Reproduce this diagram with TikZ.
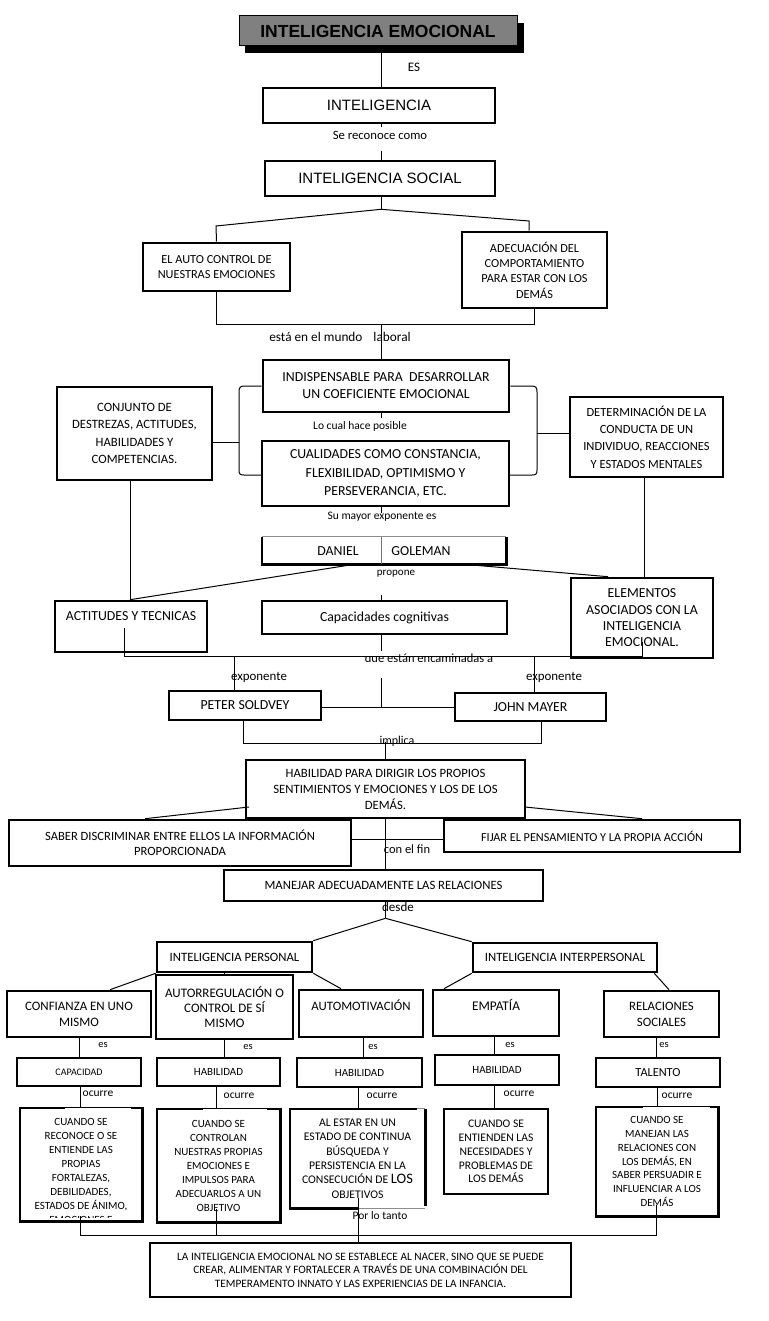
\documentclass[tikz,border=0pt]{standalone}
\usepackage{fontspec}
\setmainfont{Carlito}
\newfontfamily\arialf{Liberation Sans}
\begin{document}
\begin{tikzpicture}[x=1pt,y=-1pt,
  bx/.style={draw, line width=2.6pt, inner sep=0pt, align=center, font=\fontsize{12.7}{15}\selectfont},
  txt/.style={inner sep=0pt, align=center, font=\fontsize{13.8}{15}\selectfont},
  stxt/.style={inner sep=0pt, align=center, font=\fontsize{11}{14}\selectfont},
  lbl/.style={inner sep=1pt, font=\fontsize{12}{13}\selectfont},
  slbl/.style={inner sep=1pt, font=\fontsize{11.5}{12}\selectfont},
  ln/.style={line width=1pt},
  thk/.style={line width=2.6pt},
]
\useasboundingbox (0,0) rectangle (768,1321);
\fill[white] (0,0) rectangle (768,1321);
\coordinate (sp) at (381,0);

% ---------- boxes ----------
\fill[black] (245,23) rectangle (524,53);
\node[draw, line width=1pt, fill=black!50, inner sep=0pt, minimum width=278pt, minimum height=30pt,
      font=\arialf\bfseries\fontsize{17.5}{20}\selectfont] (title) at (378,31) {INTELIGENCIA EMOCIONAL};
\node[bx, minimum width=232pt, minimum height=35pt, font=\arialf\fontsize{15}{18}\selectfont] (intel) at (379,105.5) {INTELIGENCIA};
\node[bx, minimum width=230pt, minimum height=35pt, font=\arialf\fontsize{15}{18}\selectfont] (social) at (380,178.5) {INTELIGENCIA SOCIAL};
\node[bx, minimum width=147pt, minimum height=48pt, font=\fontsize{12.3}{15}\selectfont] (auto) at (216.5,267) {EL AUTO CONTROL DE\\NUESTRAS EMOCIONES};
\node[bx, minimum width=145pt, minimum height=76pt, font=\fontsize{12.3}{15.3}\selectfont] (adec) at (534.5,270) {ADECUACIÓN DEL\\COMPORTAMIENTO\\PARA ESTAR CON LOS\\DEMÁS};
\node[bx, minimum width=246pt, minimum height=52pt, font=\fontsize{13.8}{17}\selectfont] (indis) at (386,386) {INDISPENSABLE PARA\ \ DESARROLLAR\\UN COEFICIENTE EMOCIONAL};
\node[bx, minimum width=155pt, minimum height=93pt, font=\fontsize{12.7}{17.5}\selectfont] (conj) at (134.5,433.5) {CONJUNTO DE\\DESTREZAS, ACTITUDES,\\HABILIDADES Y\\COMPETENCIAS.};
\node[bx, minimum width=153pt, minimum height=80pt, font=\fontsize{12.5}{17.3}\selectfont] (deter) at (646.5,437) {DETERMINACIÓN DE LA\\CONDUCTA DE UN\\INDIVIDUO, REACCIONES\\Y ESTADOS MENTALES};
\node[bx, minimum width=247pt, minimum height=65pt, font=\fontsize{13.8}{18.5}\selectfont] (cual) at (385.5,473.5) {CUALIDADES COMO CONSTANCIA,\\FLEXIBILIDAD, OPTIMISMO Y\\PERSEVERANCIA, ETC.};

\node[inner sep=0pt, minimum width=244pt, minimum height=27pt] (dan) at (384,550.5) {};
\draw[thk] (dan.north west) -- (dan.south west) -- (dan.south east) -- (dan.north east);
\draw[ln, black!45] (dan.north west) -- (dan.north east);
\draw[ln, black!55] (sp |- dan.north) -- (sp |- dan.south);
\node[txt] (danT) at (338,551) {DANIEL};
\node[txt] (golT) at (421,551) {GOLEMAN};

\node[bx, minimum width=152pt, minimum height=51pt] (actit) at (131,626.5) {};
\node[txt] (actitT) at (131,616) {ACTITUDES Y TECNICAS};
\node[bx, minimum width=245pt, minimum height=33pt, font=\fontsize{13.8}{15}\selectfont] (capac) at (384.5,617.5) {Capacidades cognitivas};
\node[bx, minimum width=142pt, minimum height=80pt, font=\fontsize{13.8}{16.3}\selectfont] (elem) at (642,618) {ELEMENTOS\\ASOCIADOS CON LA\\INTELIGENCIA\\EMOCIONAL.};
\node[bx, minimum width=152pt, minimum height=29pt, font=\fontsize{13.8}{15}\selectfont] (peter) at (245,705.5) {PETER SOLDVEY};
\node[bx, minimum width=151pt, minimum height=28pt, font=\fontsize{13.8}{15}\selectfont] (john) at (530.5,707) {JOHN MAYER};
\node[bx, minimum width=279pt, minimum height=58pt, font=\fontsize{12.7}{16}\selectfont] (habil) at (385.5,789) {HABILIDAD PARA DIRIGIR LOS PROPIOS\\SENTIMIENTOS Y EMOCIONES Y LOS DE LOS\\DEMÁS.};
\node[bx, minimum width=342pt, minimum height=46pt, font=\fontsize{12.6}{15}\selectfont] (saber) at (180,843) {SABER DISCRIMINAR ENTRE ELLOS LA INFORMACIÓN\\PROPORCIONADA};
\node[bx, minimum width=296pt, minimum height=32pt, font=\fontsize{12.2}{15}\selectfont] (fijar) at (592,836) {FIJAR EL PENSAMIENTO Y LA PROPIA ACCIÓN};
\node[bx, minimum width=319pt, minimum height=31pt] (manejar) at (383.5,885.5) {MANEJAR ADECUADAMENTE LAS RELACIONES};
\node[bx, minimum width=155pt, minimum height=30pt] (ipers) at (234.5,957) {INTELIGENCIA PERSONAL};
\node[bx, minimum width=184pt, minimum height=29pt] (iinter) at (565,957.5) {INTELIGENCIA INTERPERSONAL};
\node[bx, minimum width=144pt, minimum height=46pt, font=\fontsize{12.9}{16}\selectfont] (confi) at (79,1014) {CONFIANZA EN UNO\\MISMO};
\node[bx, minimum width=137pt, minimum height=64pt, font=\fontsize{13}{15}\selectfont] (autor) at (224.5,1007) {AUTORREGULACIÓN O\\CONTROL DE SÍ\\MISMO};
\node[bx, minimum width=124pt, minimum height=47pt] (automo) at (361,1013.5) {};
\node[txt, font=\fontsize{12.8}{15}\selectfont] (automoT) at (361,1005) {AUTOMOTIVACIÓN};
\node[bx, minimum width=126pt, minimum height=46pt] (empat) at (496,1013) {};
\node[txt, font=\fontsize{13.3}{15}\selectfont] (empatT) at (496,1005) {EMPATÍA};
\node[bx, minimum width=115pt, minimum height=46pt, font=\fontsize{12.8}{16}\selectfont] (relac) at (661.5,1014) {RELACIONES\\SOCIALES};

\node[bx, minimum width=124pt, minimum height=28pt, font=\fontsize{10}{12}\selectfont] (capad) at (79,1072) {CAPACIDAD};
\node[bx, minimum width=123pt, minimum height=28pt, font=\fontsize{11}{12}\selectfont] (hab2) at (218.5,1072) {HABILIDAD};
\node[bx, minimum width=125pt, minimum height=29pt, font=\fontsize{11}{12}\selectfont] (hab3) at (359.5,1072.5) {HABILIDAD};
\node[bx, minimum width=124pt, minimum height=30pt, font=\fontsize{11}{12}\selectfont] (hab4) at (497,1070) {HABILIDAD};
\node[bx, minimum width=124pt, minimum height=29pt, font=\fontsize{12.3}{12}\selectfont] (talento) at (658,1072.5) {TALENTO};

% bottom boxes
\node[inner sep=0pt, minimum width=122pt, minimum height=113pt] (bA) at (81,1164.5) {};
\begin{scope}
  \clip (20,1100) rectangle (142,1217.5);
  \node[stxt, anchor=north] (bAT) at (81,1118) {CUANDO SE\\RECONOCE O SE\\ENTIENDE LAS\\PROPIAS\\FORTALEZAS,\\DEBILIDADES,\\ESTADOS DE ÁNIMO,\\EMOCIONES E};
\end{scope}
\draw[thk] ([xshift=45pt]bA.north west) -- (bA.north west) -- (bA.south west) -- (bA.south east) -- (bA.north east) -- ([xshift=-11pt]bA.north east);
\draw[ln] ([xshift=45pt]bA.north west) -- ([xshift=-11pt]bA.north east);

\node[stxt, minimum width=123pt, minimum height=113pt] (bB) at (218.5,1165.5) {CUANDO SE\\CONTROLAN\\NUESTRAS PROPIAS\\EMOCIONES E\\IMPULSOS PARA\\ADECUARLOS A UN\\OBJETIVO};
\draw[thk] ([xshift=46pt]bB.north west) -- (bB.north west) -- (bB.south west) -- (bB.south east) -- (bB.north east) -- ([xshift=-13pt]bB.north east);
\draw[ln] ([xshift=46pt]bB.north west) -- ([xshift=-13pt]bB.north east);

\node[inner sep=0pt, align=center, font=\fontsize{11.7}{14.4}\selectfont, minimum width=135pt, minimum height=99pt] (bC) at (357.5,1158.5) {AL ESTAR EN UN\\ESTADO DE CONTINUA\\BÚSQUEDA Y\\PERSISTENCIA EN LA\\CONSECUCIÓN DE {\fontsize{14.5}{14}\selectfont LOS}\\OBJETIVOS};
\draw[thk] (bC.south) -- (bC.south west) -- (bC.north west) -- ([xshift=-8pt]bC.north east);
\draw[thk] (bC.north east) -- ([yshift=2pt]bC.south east);
\draw[ln, black!45] ([xshift=-8pt]bC.north east) -- (bC.north east);
\draw[ln, black!45] (bC.south) -- (bC.south east);

\node[bx, font=\fontsize{11.6}{13.8}\selectfont, minimum width=104pt, minimum height=85pt] (bD) at (496,1151.5) {CUANDO SE\\ENTIENDEN LAS\\NECESIDADES Y\\PROBLEMAS DE\\LOS DEMÁS};

\node[inner sep=0pt, align=center, font=\fontsize{11}{13.7}\selectfont, minimum width=122pt, minimum height=109pt] (bE) at (657,1161.5) {CUANDO SE\\MANEJAN LAS\\RELACIONES CON\\LOS DEMÁS, EN\\SABER PERSUADIR E\\INFLUENCIAR A LOS\\DEMÁS};
\draw[thk] ([xshift=47pt]bE.north west) -- (bE.north west) -- (bE.south west) -- (bE.south east) -- (bE.north east) -- ([xshift=-8pt]bE.north east);
\draw[ln] ([xshift=47pt]bE.north west) -- ([xshift=-8pt]bE.north east);

\node[bx, minimum width=421pt, minimum height=54pt, font=\fontsize{11.3}{13.5}\selectfont] (final) at (360.5,1270) {LA INTELIGENCIA EMOCIONAL NO SE ESTABLECE AL NACER, SINO QUE SE PUEDE\\CREAR, ALIMENTAR Y FORTALECER A TRAVÉS DE UNA COMBINACIÓN DEL\\TEMPERAMENTO INNATO Y LAS EXPERIENCIAS DE LA INFANCIA.};

% ---------- connectors ----------
\draw[ln] (title.south -| sp) -- (intel.north -| sp);
\node[slbl, font=\fontsize{13}{14}\selectfont] (es0) at (414,67) {ES};
\draw[ln] (intel.south -| sp) -- ++(0,3);
\draw[ln] (social.north -| sp) -- ++(0,-9);
\node[slbl, font=\fontsize{12.7}{14}\selectfont] (sr) at (380,135) {Se reconoce como};
\draw[ln] (social.south -| sp) -- ++(0,12) coordinate (j1);
\draw[ln] (j1) -- (216,226) -- (auto.north);
\draw[ln] (j1) -- (529,221) -- ([xshift=-5.5pt]adec.north);
\draw[ln] (auto.south) -- ++(0,32) coordinate (j2l) -| ([xshift=-0.5pt]adec.south);
\draw[ln] (j2l -| sp) -- (indis.north -| sp);
\node[lbl, font=\fontsize{13.3}{14}\selectfont] (mundo) at (340,337) {está en el mundo\hspace{11pt}laboral};
\draw[ln] (indis.south -| sp) -- ++(0,5);
\node[slbl] (lcual) at (360,426) {Lo cual hace posible};
\draw[ln] (indis.west) -- (244,386) .. controls (240,386) and (239,388) .. (239,392) -- (239,470) .. controls (239,474) and (240,475) .. (244,475) -- (262,475);
\draw[ln] (indis.east) -- (532,386) .. controls (536,386) and (537,388) .. (537,392) -- (537,470) .. controls (537,474) and (536,475) .. (532,475) -- (509,475);
\draw[ln] ([yshift=-8.5pt]conj.east) -- (239,442);
\draw[ln] (537,433) -- ([yshift=4pt]deter.west);
\draw[ln] (cual.south -| sp) -- ++(0,6);
\node[slbl] (mayor) at (382,517) {Su mayor exponente es};
\draw[ln] ([xshift=-4.5pt]conj.south) -- ([xshift=-1pt]actit.north);
\draw[ln] ([xshift=-2.5pt]deter.south) -- ([xshift=2pt]elem.north);
\draw[ln] ([xshift=-29pt]dan.south) -- ([xshift=-1pt]actit.north);
\draw[ln] ([xshift=79pt]dan.south) -- ([xshift=-34pt]elem.north);
\node[slbl, font=\fontsize{11}{12}\selectfont] (prop) at (396,574) {propone};
\draw[ln] (capac.north -| sp) -- ++(0,-5);
\draw[ln] (capac.south -| sp) -- ++(0,16);
\begin{scope}
  \clip (355,640) rectangle (505,661);
  \node[slbl, font=\fontsize{12.5}{13}\selectfont] (enc) at (429,659) {que están encaminadas a};
\end{scope}
\draw[ln] (124,628) -- (124,656) -- (642,656) -- (642,642);
\draw[ln] (234,656) -- ([xshift=-11pt]peter.north);
\draw[ln] (534,656) -- ([xshift=3.5pt]john.north);
\node[lbl, font=\fontsize{12.9}{14}\selectfont] (exp1) at (259,677) {exponente};
\node[lbl, font=\fontsize{12.9}{14}\selectfont] (exp2) at (554,677) {exponente};
\draw[ln] (381,678) -- (381,707);
\draw[ln] ([yshift=-1.5pt]peter.east) -- (john.west);
\draw[ln] ([xshift=-2pt]peter.south) -- ++(0,22) -| ([xshift=10.5pt]john.south);
\node[lbl] (impl) at (397,741) {implica};
\draw[ln] (385.5,742) -- (habil.north);
\draw[ln] (249,807) -- ([xshift=-35pt]saber.north);
\draw[ln] (525,807) -- ([xshift=50pt]fijar.north);
\draw[ln] ([yshift=4pt]saber.east) -- ([yshift=-3pt]fijar.west);
\draw[ln] (habil.south) -- (habil.south |- manejar.north);
\node[lbl, font=\fontsize{12.5}{14}\selectfont] (fin) at (407,849) {con el fin};
\draw[ln] (manejar.south -| habil.south) -- ++(0,16) coordinate (j3);
\node[lbl, font=\fontsize{13}{14}\selectfont] (desde) at (398,907) {desde};
\draw[ln] (j3) -- (ipers.north east);
\draw[ln] (j3) -- (iinter.north west);
\draw[ln] (ipers.south west) -- ([xshift=31pt]confi.north);
\draw[ln] (autor.north |- ipers.south) -- (autor.north);
\draw[ln] (ipers.south east) -- ([xshift=-20pt]automo.north);
\draw[ln] (iinter.south west) -- ([xshift=-52pt]empat.north);
\draw[ln] ([xshift=-4pt]iinter.south east) -- ([xshift=7.5pt]relac.north);

\draw[ln] (confi.south) -- (capad.north);
\draw[ln] (autor.south) -- (autor.south |- hab2.north);
\draw[ln] ([xshift=2pt]automo.south) -- ([xshift=2pt]automo.south |- hab3.north);
\draw[ln] ([xshift=-2pt]empat.south) -- ([xshift=-3pt]hab4.north);
\draw[ln] ([xshift=-5.5pt]relac.south) -- ([xshift=-2pt]talento.north);
\node[slbl, font=\fontsize{10.5}{12}\selectfont] (es1) at (103,1045) {es};
\node[slbl, font=\fontsize{10.5}{12}\selectfont] (es2) at (248,1047) {es};
\node[slbl, font=\fontsize{10.5}{12}\selectfont] (es3) at (373,1047) {es};
\node[slbl, font=\fontsize{10.5}{12}\selectfont] (es4) at (510,1045) {es};
\node[slbl, font=\fontsize{10.5}{12}\selectfont] (es5) at (664,1045) {es};

\draw[ln] ([xshift=1pt]capad.south) -- ([xshift=-1pt]bA.north);
\draw[ln] ([xshift=-2.5pt]hab2.south) -- ([xshift=-2.5pt]bB.north);
\draw[ln] ([xshift=-1.5pt]hab3.south) -- ([xshift=0.5pt]bC.north);
\draw[ln] ([xshift=-3pt]hab4.south) -- ([xshift=-2pt]bD.north);
\draw[ln] ([xshift=-1pt]talento.south) -- (bE.north);
\node[slbl] (oc1) at (98,1094) {ocurre};
\node[slbl] (oc2) at (239,1096) {ocurre};
\node[slbl] (oc3) at (382,1096) {ocurre};
\node[slbl] (oc4) at (519,1094) {ocurre};
\node[slbl] (oc5) at (677,1096) {ocurre};

\draw[ln] (80,1216) -- (80,1235) -- (656,1235) -- (656,1205);
\draw[ln] (216,1209) -- (216,1235);
\draw[ln] (358,1198) -- ([xshift=-2.5pt]final.north);
\node[slbl] (plt) at (380,1216) {Por lo tanto};
\end{tikzpicture}
\end{document}
